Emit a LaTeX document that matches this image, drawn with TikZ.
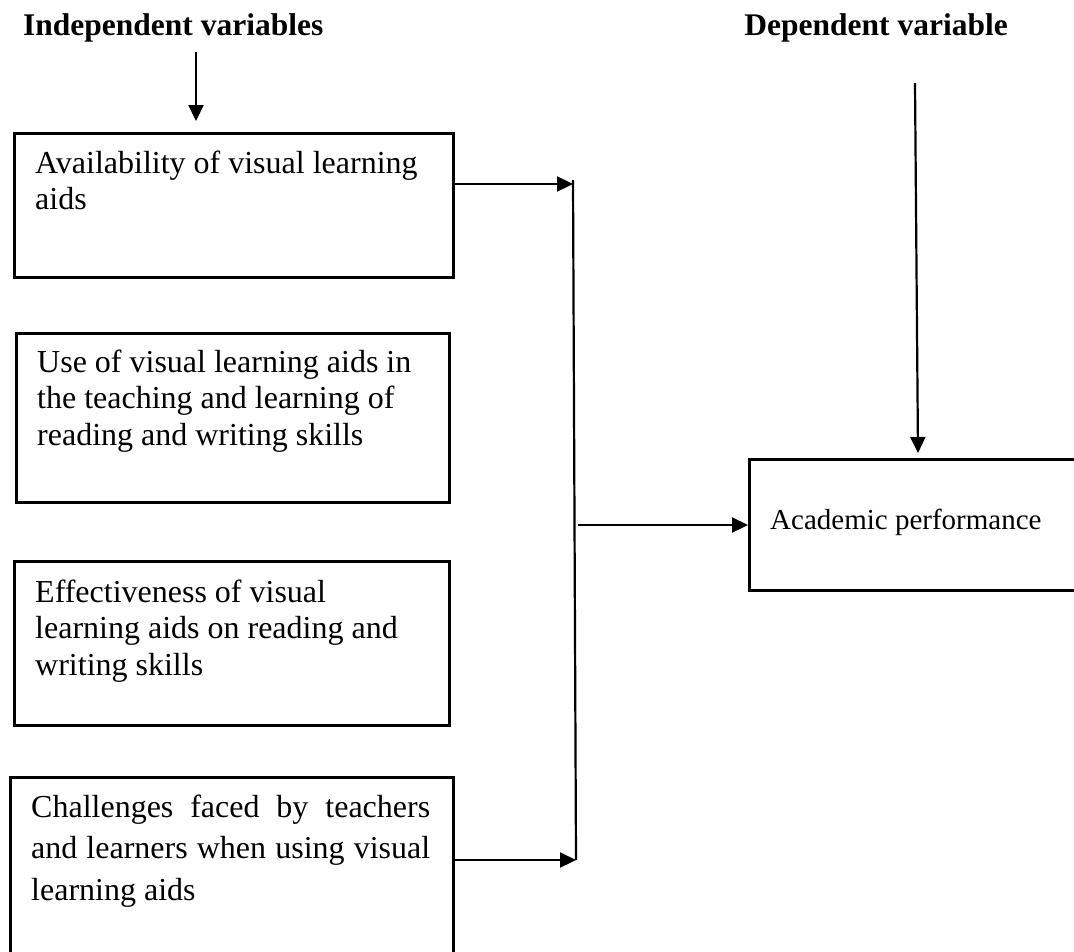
\documentclass[tikz,border=0pt]{standalone}
\usepackage{fontspec}
\setmainfont{Liberation Serif}
\usetikzlibrary{arrows.meta}
\begin{document}
\begin{tikzpicture}[x=1pt,y=-1pt,
  box/.style={draw, line width=2.5pt, anchor=north west, inner sep=0pt},
  txt/.style={anchor=base west, inner sep=0pt},
  ttl/.style={inner sep=0pt, font=\fontsize{31.5}{36}\selectfont\bfseries},
  conn/.style={line width=2.2pt},
  arr/.style={line width=2.2pt, -{Triangle[length=16pt,width=15pt]}}]
\useasboundingbox (0,0) rectangle (1074,951);
\fill[white] (0,0) rectangle (1074,951);
\clip (0,0) rectangle (1074,951);
% titles
\node[ttl, anchor=base west] (tind) at (23,35) {Independent variables};
\node[ttl, anchor=base east] (tdep) at (1008,35) {Dependent variable};
% boxes
\node[box, minimum width=439pt, minimum height=144pt] (b1) at (13,132) {};
\node[box, minimum width=433pt, minimum height=169pt] (b2) at (15,332) {};
\node[box, minimum width=435pt, minimum height=164pt] (b3) at (13,560) {};
\node[box, minimum width=443pt, minimum height=200pt] (b4) at (9,776) {};
\node[box, minimum width=340pt, minimum height=131pt] (b5) at (748,458) {};
% texts
\node[txt] (t1) at (35,173) {\parbox[t]{410pt}{\fontsize{32}{36.5}\selectfont\raggedright Availability of visual learning\\aids}};
\node[txt] (t2) at (37,372) {\parbox[t]{410pt}{\fontsize{32}{36.7}\selectfont\raggedright Use of visual learning aids in\\the teaching and learning of\\reading and writing skills}};
\node[txt] (t3) at (35,602) {\parbox[t]{410pt}{\fontsize{32}{36.7}\selectfont\raggedright Effectiveness of visual\\learning aids on reading and\\writing skills}};
\node[txt] (t4) at (31,817) {\parbox[t]{399pt}{\fontsize{32}{41.7}\selectfont\makebox[399pt][s]{Challenges faced by teachers}\\\makebox[399pt][s]{and learners when using visual}\\learning aids}};
\node[txt] (t5) at (770,529) {\fontsize{29}{34}\selectfont Academic performance};
% connectors
\coordinate (vtop) at (573,180);
\coordinate (vbot) at (576,860);
\coordinate (j1) at (573,184);
\coordinate (m) at (578,525);
\coordinate (i0) at (196,52);
\coordinate (i1) at (196,121);
\coordinate (d0) at (915,83);
\coordinate (d1) at (918,453);
\draw[conn] (vtop) -- (vbot);
\draw[arr] ([xshift=-3pt]b1.east |- j1) -- (j1);
\draw[arr] (b4.east |- vbot) -- (vbot);
\draw[arr] (m) -- (b5.west |- m);
\draw[arr] (i0) -- (i1);
\draw[arr] (d0) -- (d1);
\end{tikzpicture}
\end{document}
